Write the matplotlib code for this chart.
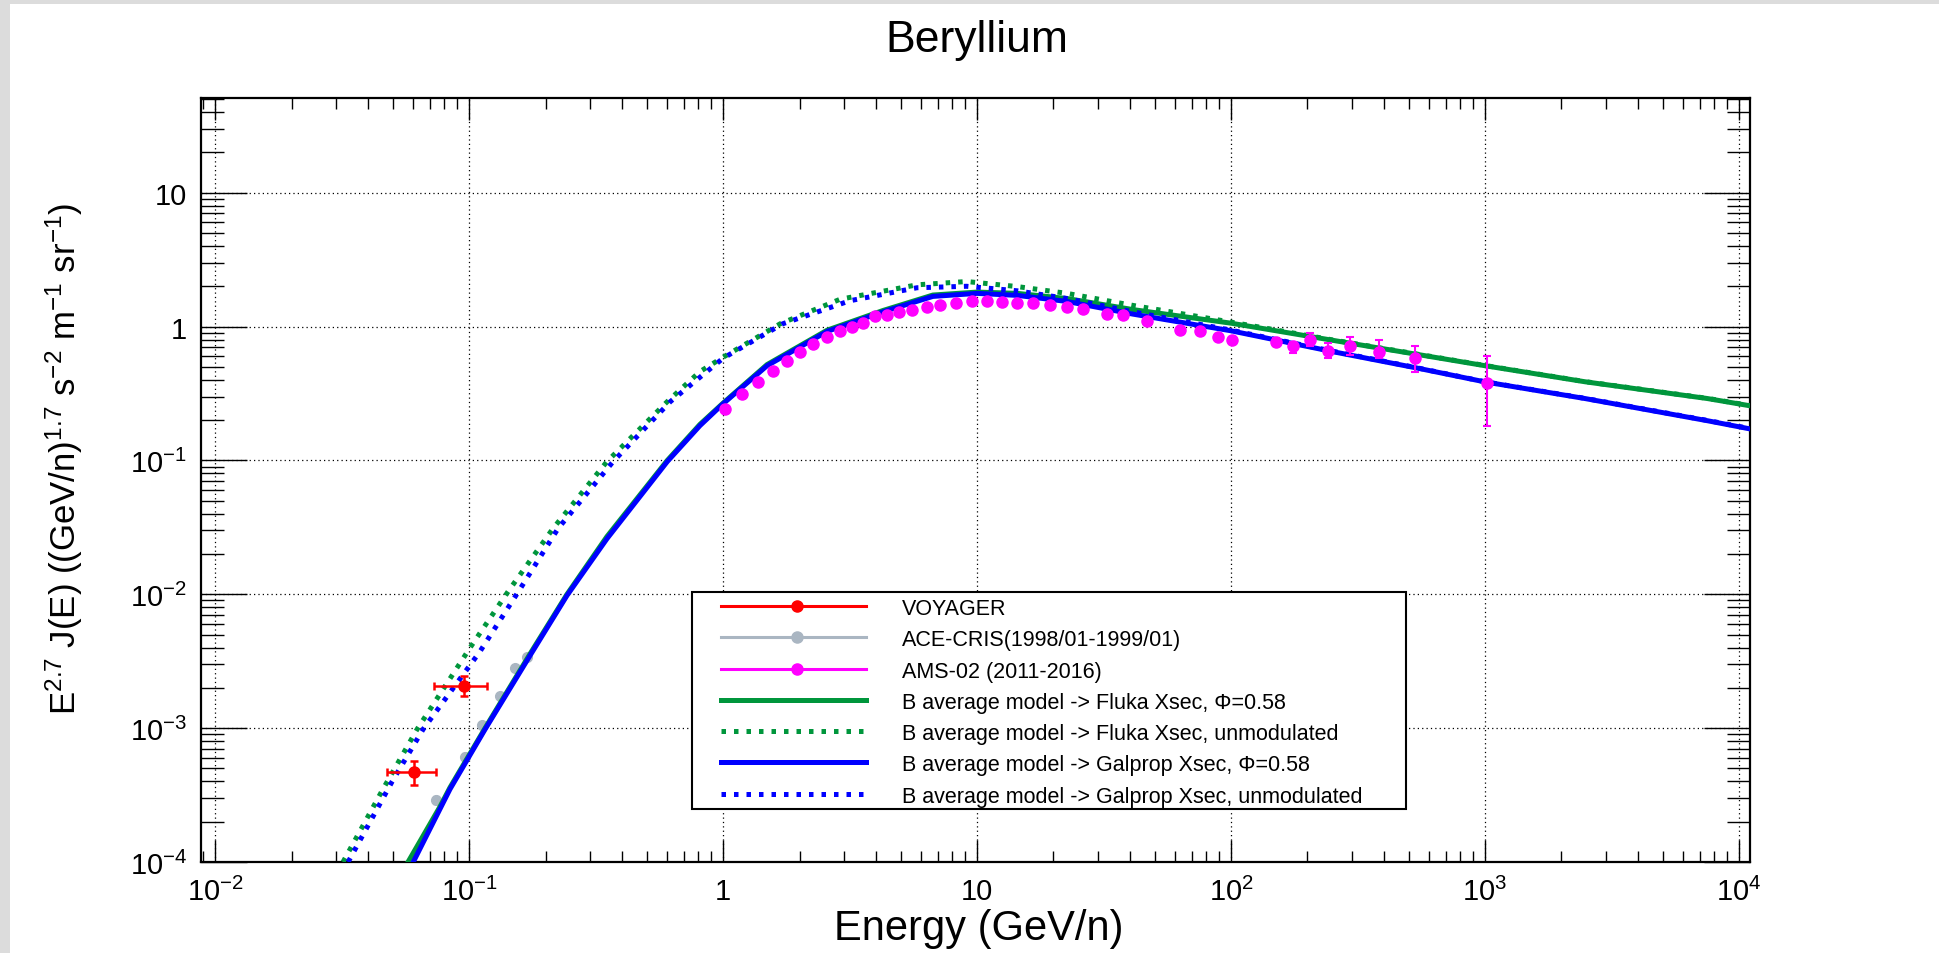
import numpy as np
import matplotlib
matplotlib.use("Agg")
import matplotlib.pyplot as plt
from matplotlib.lines import Line2D
from matplotlib.patches import Rectangle
from matplotlib.ticker import FixedLocator, LogLocator, NullFormatter

plt.rcParams['font.family'] = ['Liberation Sans', 'DejaVu Sans']
plt.rcParams['mathtext.fontset'] = 'custom'
plt.rcParams['mathtext.rm'] = 'Liberation Sans'
plt.rcParams['mathtext.it'] = 'Liberation Sans:italic'
plt.rcParams['mathtext.bf'] = 'Liberation Sans:bold'

# ---- data: E^2.7 J(E) vs kinetic energy per nucleon ----
# VOYAGER
voy_e = [0.0607, 0.0955]
voy_y = [4.71e-4, 2.07e-3]
voy_exlo = [0.0131, 0.0227]
voy_exhi = [0.0135, 0.0223]
voy_eylo = [0.95e-4, 0.33e-3]
voy_eyhi = [0.98e-4, 0.39e-3]

# ACE-CRIS (1998/01-1999/01)
ace_e = [0.0742, 0.0964, 0.1125, 0.132, 0.152, 0.169]
ace_y = [2.9e-4, 6.1e-4, 1.05e-3, 1.75e-3, 2.8e-3, 3.4e-3]
ace_err = [0.2e-4, 0.4e-4, 0.6e-4, 0.9e-4, 1.4e-4, 1.7e-4]

# AMS-02 (2011-2016)
ams_e = [1.02, 1.19, 1.37, 1.57, 1.79, 2.01, 2.26, 2.57, 2.89, 3.22, 3.56,
         3.96, 4.42, 4.93, 5.55, 6.35, 7.15, 8.3, 9.55, 10.9, 12.5, 14.4,
         16.6, 19.4, 22.6, 26.1, 32.5, 37.6, 46.7, 63.0, 75.5, 89.0, 101.0,
         151.0, 176.0, 205.0, 241.0, 295.0, 381.0, 531.0, 1020.0]
ams_y = [0.244, 0.316, 0.388, 0.465, 0.557, 0.65, 0.746, 0.84, 0.92, 1.0, 1.07,
         1.19, 1.22, 1.28, 1.33, 1.41, 1.46, 1.51, 1.54, 1.54, 1.52, 1.51,
         1.49, 1.44, 1.41, 1.36, 1.25, 1.21, 1.11, 0.95, 0.92, 0.84, 0.79,
         0.77, 0.71, 0.79, 0.66, 0.72, 0.65, 0.58, 0.38]
ams_eylo = [0.005, 0.006, 0.007, 0.008, 0.009, 0.01, 0.011, 0.012, 0.013, 0.014, 0.015,
            0.016, 0.017, 0.018, 0.019, 0.02, 0.021, 0.022, 0.023, 0.024, 0.025, 0.026,
            0.027, 0.028, 0.03, 0.031, 0.033, 0.035, 0.037, 0.04, 0.043, 0.046, 0.05,
            0.05, 0.08, 0.07, 0.08, 0.11, 0.07, 0.12, 0.20]
ams_eyhi = [0.005, 0.006, 0.007, 0.008, 0.009, 0.01, 0.011, 0.012, 0.013, 0.014, 0.015,
            0.016, 0.017, 0.018, 0.019, 0.02, 0.021, 0.022, 0.023, 0.024, 0.025, 0.026,
            0.027, 0.028, 0.03, 0.031, 0.033, 0.035, 0.037, 0.04, 0.043, 0.046, 0.05,
            0.05, 0.06, 0.10, 0.09, 0.12, 0.14, 0.13, 0.227]

# B average model -> Fluka Xsec, Phi=0.58
fluka_mod_e = [0.0575, 0.0769, 0.0841, 0.1156, 0.174, 0.243, 0.349, 0.603, 0.811,
               1.0, 1.49, 2.57, 4.27, 6.7, 10.0, 14.4, 22.6, 41.0, 100.0, 251.0,
               540.0, 1000.0, 2475.0, 7510.0, 11050.0]
fluka_mod_y = [1e-4, 2.6e-4, 3.6e-4, 1.0e-3, 3.6e-3, 1.0e-2, 0.027, 0.1, 0.186,
               0.268, 0.52, 0.94, 1.32, 1.72, 1.81, 1.77, 1.62, 1.34, 1.06, 0.79,
               0.62, 0.51, 0.387, 0.29, 0.256]

# B average model -> Fluka Xsec, unmodulated
fluka_unmod_e = [0.0319, 0.0458, 0.0624, 0.101, 0.1425, 0.214, 0.349, 0.603, 0.811,
                 1.0, 1.68, 2.89, 5.8, 9.1, 14.4, 22.6, 41.0, 100.0, 251.0, 540.0,
                 1000.0, 2475.0, 7510.0, 11050.0]
fluka_unmod_y = [1e-4, 3.5e-4, 9.8e-4, 4.0e-3, 0.0105, 0.031, 0.098, 0.275, 0.461,
                 0.59, 1.05, 1.6, 2.05, 2.17, 1.99, 1.77, 1.44, 1.08, 0.795, 0.623,
                 0.512, 0.388, 0.291, 0.257]

# B average model -> Galprop Xsec, Phi=0.58
galprop_mod_e = [0.0603, 0.0769, 0.0841, 0.1156, 0.174, 0.243, 0.349, 0.603, 0.811,
                 1.0, 1.49, 2.57, 4.27, 6.7, 10.0, 14.4, 22.6, 41.0, 100.0, 251.0,
                 540.0, 1000.0, 2475.0, 7510.0, 11050.0]
galprop_mod_y = [1e-4, 2.5e-4, 3.5e-4, 9.8e-4, 3.5e-3, 9.8e-3, 0.026, 0.098, 0.182,
                 0.265, 0.51, 0.92, 1.29, 1.68, 1.77, 1.71, 1.54, 1.24, 0.93, 0.65,
                 0.49, 0.386, 0.29, 0.198, 0.172]

# B average model -> Galprop Xsec, unmodulated
galprop_unmod_e = [0.0334, 0.0498, 0.0659, 0.110, 0.159, 0.224, 0.369, 0.62, 1.0,
                   1.72, 3.16, 5.8, 9.1, 14.4, 22.6, 41.0, 100.0, 251.0, 540.0,
                   1000.0, 2475.0, 7510.0, 11050.0]
galprop_unmod_y = [1e-4, 4.0e-4, 9.8e-4, 3.7e-3, 0.011, 0.031, 0.098, 0.275, 0.58,
                   1.05, 1.56, 1.95, 2.0, 1.85, 1.62, 1.29, 0.94, 0.655, 0.492,
                   0.387, 0.291, 0.199, 0.173]

x_ticks = [1e-2, 1e-1, 1, 10, 1e2, 1e3, 1e4]
x_tick_labels = [r'$10^{-2}$', r'$10^{-1}$', '1', '10', r'$10^{2}$', r'$10^{3}$', r'$10^{4}$']
y_ticks = [1e-4, 1e-3, 1e-2, 1e-1, 1, 10]
y_tick_labels = [r'$10^{-4}$', r'$10^{-3}$', r'$10^{-2}$', r'$10^{-1}$', '1', '10']

legend_labels = [
    'VOYAGER',
    'ACE-CRIS(1998/01-1999/01)',
    'AMS-02 (2011-2016)',
    'B average model -> Fluka Xsec, Φ=0.58',
    'B average model -> Fluka Xsec, unmodulated',
    'B average model -> Galprop Xsec, Φ=0.58',
    'B average model -> Galprop Xsec, unmodulated',
]

# ---- colours ----
RED = '#ff0000'
GREY = '#aab6c2'
MAGENTA = '#ff00ff'
GREEN = '#00963c'
BLUE = '#0000ff'
DOTS = (0, (0.9, 1.6))
LW = 3.6

W, H = 1939, 954
fig = plt.figure(figsize=(W / 100, H / 100), dpi=100)
fig.patch.set_facecolor('white')


def fx(x):
    return x / W


def fy(y):
    return 1 - y / H


# light grey strips along the top and left edge of the canvas
fig.patches.append(Rectangle((0, 0), fx(10), 1, transform=fig.transFigure,
                             facecolor='#dcdcdc', edgecolor='none', zorder=-1))
fig.patches.append(Rectangle((0, fy(5)), 1, 5 / H, transform=fig.transFigure,
                             facecolor='#dcdcdc', edgecolor='none', zorder=-1))

ax = fig.add_axes([fx(201), fy(863), (1750 - 201) / W, (863 - 99) / H])
ax.set_xscale('log')
ax.set_yscale('log')
ax.set_xlim(0.0088, 11050)
ax.set_ylim(1e-4, 51)

# data points first, model curves on top
ax.errorbar(ace_e, ace_y, yerr=ace_err, fmt='o', color=GREY, ms=7,
            elinewidth=1.5, capsize=2, zorder=3)

ax.plot(fluka_mod_e, fluka_mod_y, color=GREEN, lw=LW, zorder=4)
ax.plot(fluka_unmod_e, fluka_unmod_y, color=GREEN, lw=LW, ls=DOTS, zorder=4)
ax.plot(galprop_mod_e, galprop_mod_y, color=BLUE, lw=LW, zorder=5)
ax.plot(galprop_unmod_e, galprop_unmod_y, color=BLUE, lw=LW, ls=DOTS, zorder=5)

ax.errorbar(ams_e, ams_y, yerr=[ams_eylo, ams_eyhi], fmt='o', color=MAGENTA,
            ms=8, elinewidth=1.5, capsize=3, capthick=1.5, zorder=6)
ax.errorbar(voy_e, voy_y, xerr=[voy_exlo, voy_exhi], yerr=[voy_eylo, voy_eyhi],
            fmt='o', color=RED, ms=8, elinewidth=1.8, capsize=3, capthick=1.8, zorder=7)

# axes styling
ax.xaxis.set_major_locator(FixedLocator(x_ticks))
ax.xaxis.set_ticklabels(x_tick_labels)
ax.yaxis.set_major_locator(FixedLocator(y_ticks))
ax.yaxis.set_ticklabels(y_tick_labels)
ax.xaxis.set_minor_locator(LogLocator(base=10, subs=np.arange(2, 10), numticks=50))
ax.yaxis.set_minor_locator(LogLocator(base=10, subs=np.arange(2, 10), numticks=50))
ax.xaxis.set_minor_formatter(NullFormatter())
ax.yaxis.set_minor_formatter(NullFormatter())

ax.tick_params(which='both', direction='in', top=True, right=True, width=1, labelsize=21)
ax.tick_params(axis='x', which='major', length=16, pad=11)
ax.tick_params(axis='x', which='minor', length=8)
ax.tick_params(axis='y', which='major', length=33, pad=10)
ax.tick_params(axis='y', which='minor', length=16.5)
for sp in ax.spines.values():
    sp.set_linewidth(1.6)

ax.grid(True, which='major', color='black', lw=0.9, ls=(0, (1, 2.5)))
ax.set_axisbelow(True)

fig.text(fx(977), fy(52), 'Beryllium', ha='center', va='baseline', fontsize=32)
fig.text(fx(979), fy(940), 'Energy (GeV/n)', ha='center', va='baseline', fontsize=30)
fig.text(fx(64), fy(459),
         r'E$^{2.7}$ J(E) ((GeV/n)$^{1.7}$ s$^{-2}$ m$^{-1}$ sr$^{-1}$)',
         rotation=90, ha='center', va='center', fontsize=25)

# legend box, drawn by hand in pixel coordinates
fig.add_artist(Rectangle((fx(692), fy(810)), (1406 - 692) / W, (810 - 593) / H,
                         transform=fig.transFigure, facecolor='white',
                         edgecolor='black', lw=1.5, zorder=10))
legend_styles = [
    dict(color=RED, lw=2.2, marker=True),
    dict(color=GREY, lw=2.2, marker=True),
    dict(color=MAGENTA, lw=2.2, marker=True),
    dict(color=GREEN, lw=LW, ls='-'),
    dict(color=GREEN, lw=LW, ls=DOTS),
    dict(color=BLUE, lw=LW, ls='-'),
    dict(color=BLUE, lw=LW, ls=DOTS),
]
row_y = 607
for label, st in zip(legend_labels, legend_styles):
    fig.add_artist(Line2D([fx(721), fx(866)], [fy(row_y), fy(row_y)],
                          transform=fig.transFigure, color=st['color'], lw=st['lw'],
                          ls=st.get('ls', '-'), zorder=11))
    if st.get('marker'):
        fig.add_artist(Line2D([fx(797)], [fy(row_y)], transform=fig.transFigure,
                              color=st['color'], marker='o', ms=8, ls='none', zorder=12))
    fig.text(fx(902), fy(row_y), label, ha='left', va='center_baseline',
             fontsize=15.5, zorder=12)
    row_y += 31.3

fig.savefig('out.png', dpi=100)
